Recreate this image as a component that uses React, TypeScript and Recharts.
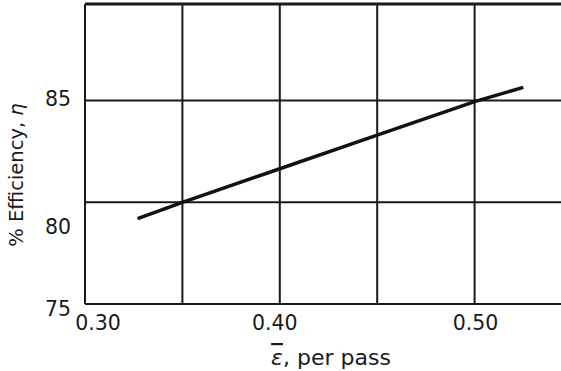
import React from "react";
import { LineChart, Line, XAxis, YAxis, CartesianGrid, ReferenceLine } from "recharts";

const strainPerPass = [0.327, 0.35, 0.4, 0.45, 0.5, 0.525];
const efficiency = [79.2, 80.0, 81.65, 83.3, 84.95, 85.65];
const xTicks = [0.3, 0.35, 0.4, 0.45, 0.5, 0.55];
const xTickLabels: Record<string, string> = { "0.3": "0.30", "0.4": "0.40", "0.5": "0.50" };
const yTicks = [75, 80, 85];
const yMax = 89.75;

const data = strainPerPass.map((e, i) => ({ e, eta: efficiency[i] }));

const FONT = "'DejaVu Sans', sans-serif";
const INK = "#1a1a1a";

const xLabelShift: Record<string, number> = { "0.3": 13, "0.4": -5, "0.5": 1 };
const yLabelShift: Record<string, number> = { "75": 12, "80": 32, "85": 5 };

const XTick = (props: any) => {
  const { x, y, payload } = props;
  const key = String(payload.value);
  const label = xTickLabels[key];
  if (!label) return <g />;
  return (
    <text x={x + (xLabelShift[key] || 0)} y={y} dy={26} textAnchor="middle" fontFamily={FONT} fontSize={20.5} fill={INK}>
      {label}
    </text>
  );
};

const YTick = (props: any) => {
  const { x, y, payload } = props;
  const key = String(payload.value);
  return (
    <text x={x - 14} y={y} dy={yLabelShift[key] || 0} textAnchor="end" fontFamily={FONT} fontSize={20.5} fill={INK}>
      {key}
    </text>
  );
};

const YTitle = (props: any) => {
  const vb = props.viewBox || { x: 0, y: 0, width: 0, height: 0 };
  const cx = vb.x + 23;
  const cy = vb.y + vb.height / 2 + 21;
  return (
    <text x={cx} y={cy} transform={`rotate(-90, ${cx}, ${cy})`} textAnchor="middle" fontFamily={FONT} fontSize={19.5} fill={INK}>
      % Efficiency, <tspan fontStyle="italic">η</tspan>
    </text>
  );
};

const XTitle = (props: any) => {
  const vb = props.viewBox || { x: 0, y: 0, width: 0, height: 0 };
  const cx = vb.x + 246;
  return (
    <text x={cx} y={vb.y + 61} textAnchor="middle" fontFamily={FONT} fontSize={22} fill={INK}>
      <tspan fontStyle="italic" style={{ textDecoration: "overline" }}>ε</tspan>, per pass
    </text>
  );
};

export default function App() {
  return (
    <div style={{ position: "absolute", left: 0, top: 0, width: 561, height: 371, overflow: "hidden", background: "#fff" }}>
      <LineChart width={572} height={371} data={data} margin={{ top: 4, right: 0, bottom: 0, left: 0 }}>
        <CartesianGrid stroke={INK} strokeWidth={2} fill="none" />
        <XAxis
          type="number"
          dataKey="e"
          domain={[0.3, 0.55]}
          ticks={xTicks}
          tick={<XTick />}
          tickLine={false}
          tickSize={0}
          tickMargin={0}
          height={67}
          axisLine={{ stroke: INK, strokeWidth: 2 }}
          interval={0}
          label={<XTitle />}
        />
        <YAxis
          type="number"
          domain={[75, yMax]}
          ticks={yTicks}
          tick={<YTick />}
          tickLine={false}
          tickSize={0}
          tickMargin={0}
          width={85}
          axisLine={{ stroke: INK, strokeWidth: 2 }}
          interval={0}
          label={<YTitle />}
        />
        <ReferenceLine y={yMax} stroke={INK} strokeWidth={3} />
        <Line type="linear" dataKey="eta" stroke="#111" strokeWidth={3.5} dot={false} isAnimationActive={false} />
      </LineChart>
    </div>
  );
}
